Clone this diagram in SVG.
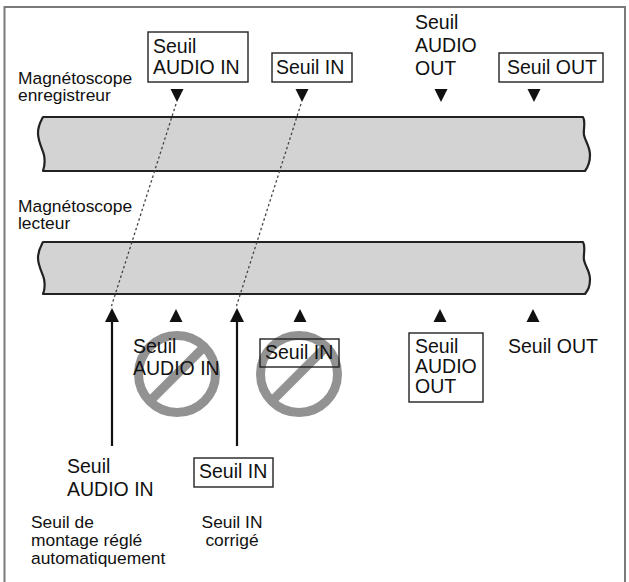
<svg xmlns="http://www.w3.org/2000/svg" width="629" height="582" viewBox="0 0 629 582">
<style>
text{font-family:"Liberation Sans",Arial,sans-serif;fill:#111}
.big{font-size:19.5px}
.small{font-size:17.4px}
.box{fill:#fff;stroke:#222;stroke-width:1.4}
.tape{fill:#d3d3d3;stroke:#222;stroke-width:2.2;stroke-linejoin:round}
.tri{fill:#111}
.dash{stroke:#444;stroke-width:1.3;stroke-dasharray:2.5 2.5;fill:none}
.arrow{stroke:#111;stroke-width:2.2;fill:none}
.ban{fill:none;stroke:#929292;stroke-width:9}
</style>
<rect x="0" y="0" width="629" height="582" fill="#fff"/>
<path d="M4.5,595 V7 H625 V595" fill="none" stroke="#7a7a7a" stroke-width="2"/>

<g id="tape-rec">
<path class="tape" d="M43,117 H583 C586,122 583,130 584,135 C585,141 590,146 590,155 C590,163 588,167 585,171 H43 C45,165 45,160 44,155 C43,150 38,142 38,133 C38,125 41,121 43,117 Z"/>
</g>
<g id="tape-play">
<path class="tape" d="M43,242 H583 C586,247 583,255 584,260 C585,266 590,271 590,279 C590,287 588,290 585,294 H43 C45,289 45,284 44,279 C43,274 38,266 38,258 C38,250 41,246 43,242 Z"/>
</g>

<g id="label-rec">
<text class="small" x="18" y="84">Magnétoscope</text>
<text class="small" x="18" y="101">enregistreur</text>
</g>
<g id="label-play">
<text class="small" x="18" y="212">Magnétoscope</text>
<text class="small" x="18" y="229">lecteur</text>
</g>

<g id="top-audio-in">
<rect class="box" x="148" y="32" width="100" height="50"/>
<text class="big" x="153" y="53">Seuil</text>
<text class="big" x="153" y="74">AUDIO IN</text>
<polygon class="tri" points="170.5,89 183.5,89 177,102"/>
</g>
<g id="top-in">
<rect class="box" x="272" y="53" width="80" height="29"/>
<text class="big" x="276" y="74">Seuil IN</text>
<polygon class="tri" points="295.5,89 308.5,89 302,102"/>
</g>
<g id="top-audio-out">
<text class="big" x="415" y="29">Seuil</text>
<text class="big" x="415" y="52">AUDIO</text>
<text class="big" x="415" y="75">OUT</text>
<polygon class="tri" points="434.5,89 447.5,89 441,102"/>
</g>
<g id="top-out">
<rect class="box" x="499" y="53" width="104" height="29"/>
<text class="big" x="507" y="74">Seuil OUT</text>
<polygon class="tri" points="527.5,89 540.5,89 534,102"/>
</g>

<g id="connectors">
<line class="dash" x1="176" y1="104" x2="111.5" y2="306"/>
<line class="dash" x1="301" y1="104" x2="236.5" y2="306"/>
<line class="arrow" x1="112" y1="320" x2="112" y2="446"/>
<polygon class="tri" points="112,308 105,322 119,322"/>
<line class="arrow" x1="237" y1="320" x2="237" y2="446"/>
<polygon class="tri" points="237,308 230,322 244,322"/>
</g>

<g id="bot-audio-in-ban">
<polygon class="tri" points="176,309 169.5,322 182.5,322"/>
<circle class="ban" cx="177" cy="374" r="38.5"/>
<line class="ban" x1="204" y1="347" x2="150" y2="401"/>
<text class="big" x="133" y="353">Seuil</text>
<text class="big" x="133" y="375">AUDIO IN</text>
</g>
<g id="bot-in-ban">
<polygon class="tri" points="300,309 293.5,322 306.5,322"/>
<circle class="ban" cx="299" cy="374" r="38.5"/>
<line class="ban" x1="326" y1="347" x2="272" y2="401"/>
<rect x="260" y="339" width="79" height="28" fill="none" stroke="#222" stroke-width="1.4"/>
<text class="big" x="265" y="359">Seuil IN</text>
</g>
<g id="bot-audio-out">
<polygon class="tri" points="440,309 433.5,322 446.5,322"/>
<rect class="box" x="409" y="333" width="74" height="69"/>
<text class="big" x="415" y="353">Seuil</text>
<text class="big" x="415" y="373">AUDIO</text>
<text class="big" x="415" y="393">OUT</text>
</g>
<g id="bot-out">
<polygon class="tri" points="533,309 526.5,322 539.5,322"/>
<text class="big" x="508" y="353">Seuil OUT</text>
</g>

<g id="auto-audio-in">
<text class="big" x="67" y="473">Seuil</text>
<text class="big" x="67" y="496">AUDIO IN</text>
<text class="small" x="31" y="528">Seuil de</text>
<text class="small" x="31" y="546">montage réglé</text>
<text class="small" x="31" y="564">automatiquement</text>
</g>
<g id="corrected-in">
<rect class="box" x="194" y="458" width="79" height="29"/>
<text class="big" x="199" y="478">Seuil IN</text>
<text class="small" x="232" y="528" text-anchor="middle">Seuil IN</text>
<text class="small" x="232" y="546" text-anchor="middle">corrigé</text>
</g>
</svg>
